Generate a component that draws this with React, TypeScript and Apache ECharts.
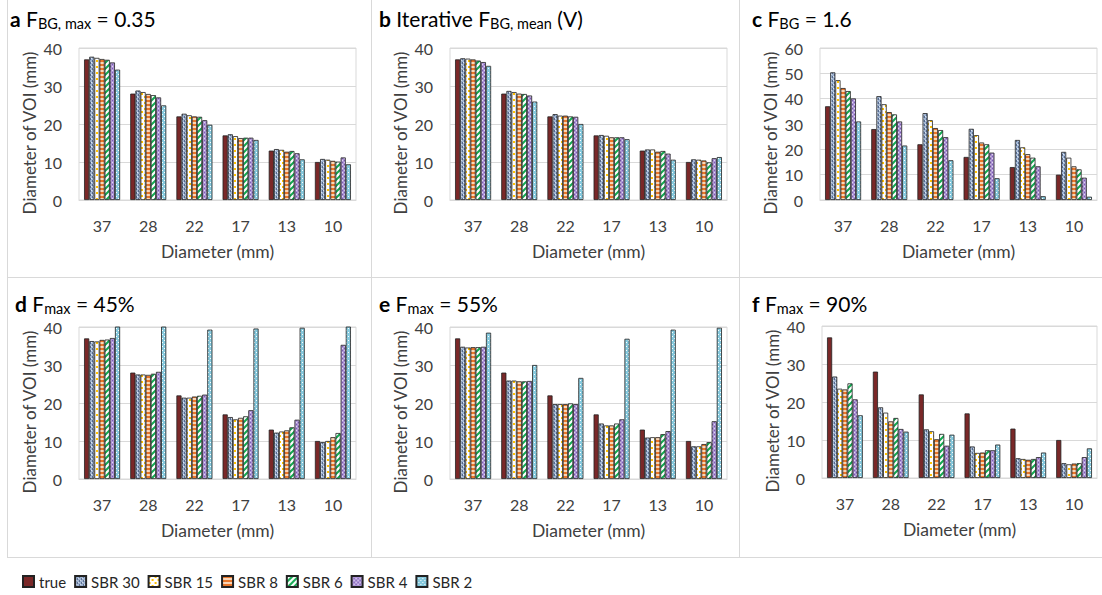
import React, { useEffect, useRef } from 'react';
import * as echarts from 'echarts';

const FONT = 'Lato';

const categories = ['37', '28', '22', '17', '13', '10'];
const seriesNames = ['true', 'SBR 30', 'SBR 15', 'SBR 8', 'SBR 6', 'SBR 4', 'SBR 2'];
const trueDiameters = [37, 28, 22, 17, 13, 10];

// rows: SBR 30, SBR 15, SBR 8, SBR 6, SBR 4, SBR 2 ; columns follow categories
const panelA = [
  [37.7, 28.8, 22.7, 17.3, 13.4, 10.8],
  [37.4, 28.4, 22.3, 16.8, 13.2, 10.6],
  [37.1, 27.9, 22.0, 16.3, 12.7, 10.3],
  [36.9, 27.6, 21.9, 16.4, 12.9, 10.1],
  [36.2, 27.0, 21.0, 16.4, 12.3, 11.2],
  [34.3, 24.9, 19.8, 15.8, 10.7, 9.4],
];
const panelB = [
  [37.3, 28.7, 22.6, 17.1, 13.3, 10.7],
  [37.2, 28.4, 22.2, 16.9, 13.3, 10.6],
  [37.0, 28.0, 22.2, 16.5, 12.7, 10.4],
  [36.7, 27.9, 22.0, 16.5, 12.9, 9.9],
  [36.3, 27.5, 21.9, 16.5, 12.2, 11.0],
  [35.3, 25.9, 20.0, 16.0, 10.6, 11.3],
];
const panelC = [
  [50.4, 41.0, 34.3, 28.1, 23.7, 19.0],
  [47.3, 37.8, 31.5, 25.6, 20.8, 16.7],
  [44.2, 34.7, 28.4, 22.7, 18.1, 13.3],
  [43.0, 33.8, 27.6, 22.0, 16.7, 12.1],
  [40.1, 31.0, 24.8, 18.7, 13.3, 8.8],
  [31.0, 21.5, 15.7, 8.6, 1.5, 1.3],
];
const panelD = [
  [36.3, 27.5, 21.4, 16.3, 12.2, 9.7],
  [36.2, 27.5, 21.4, 15.7, 12.5, 10.0],
  [36.6, 27.4, 21.7, 16.1, 12.8, 11.0],
  [36.7, 27.7, 21.9, 16.5, 13.6, 12.1],
  [37.1, 28.2, 22.2, 18.1, 15.6, 35.3],
  [45.0, 44.0, 39.3, 39.6, 39.8, 40.2],
];
const panelE = [
  [34.8, 25.9, 19.7, 14.6, 10.9, 8.6],
  [34.6, 25.9, 19.7, 14.1, 11.0, 8.6],
  [34.7, 25.7, 19.7, 14.1, 11.0, 9.2],
  [34.7, 25.7, 19.9, 14.6, 11.8, 9.7],
  [34.8, 25.8, 19.7, 15.7, 12.6, 15.2],
  [38.5, 30.0, 26.6, 36.9, 39.3, 39.8],
];
const panelF = [
  [26.7, 18.6, 12.8, 8.3, 5.2, 3.9],
  [23.5, 17.2, 12.3, 6.6, 5.0, 3.6],
  [23.3, 14.9, 10.2, 6.7, 4.8, 3.8],
  [24.9, 15.8, 11.6, 7.3, 5.0, 3.9],
  [20.7, 12.9, 8.5, 7.3, 5.5, 5.5],
  [16.5, 12.2, 11.4, 8.8, 6.7, 7.8],
];

const panelData = [panelA, panelB, panelC, panelD, panelE, panelF];
const panelMax = [40, 40, 60, 40, 40, 40];
const panelTitles = [
  '{b|a}{n| F}{s|BG, max}{n| = 0.35}',
  '{b|b}{n| Iterative F}{s|BG, mean}{n| (V)}',
  '{b|c}{n| F}{s|BG}{n| = 1.6}',
  '{b|d}{n| F}{s|max}{n| = 45%}',
  '{b|e}{n| F}{s|max}{n| = 55%}',
  '{b|f}{n| F}{s|max}{n| = 90%}',
];
const yAxisTitle = 'Diameter of VOI (mm)';
const xAxisTitle = 'Diameter (mm)';

// layout
const grids = [
  { left: 79, top: 48, width: 277, height: 152 },
  { left: 450, top: 48, width: 277, height: 152 },
  { left: 820, top: 48, width: 277, height: 152 },
  { left: 79, top: 327, width: 277, height: 152 },
  { left: 450, top: 327, width: 277, height: 152 },
  { left: 822, top: 326, width: 275, height: 152 },
];
const titlePos = [
  { left: 10, top: 5 },
  { left: 379, top: 5 },
  { left: 752, top: 5 },
  { left: 15, top: 290 },
  { left: 379, top: 290 },
  { left: 752, top: 290 },
];

function makeTile(w: number, h: number, draw: (ctx: CanvasRenderingContext2D) => void) {
  const c = document.createElement('canvas');
  c.width = w;
  c.height = h;
  const ctx = c.getContext('2d') as CanvasRenderingContext2D;
  draw(ctx);
  return { image: c.toDataURL(), repeat: 'repeat', imageWidth: w, imageHeight: h };
}

function buildFills(): any[] {
  const solid = '#7a2828';
  const sbr30 = makeTile(4, 4, (ctx) => {
    ctx.fillStyle = '#9fb4d2';
    ctx.fillRect(0, 0, 4, 4);
    ctx.fillStyle = '#56698c';
    ctx.fillRect(0, 0, 1, 2);
    ctx.fillRect(2, 2, 1, 2);
    ctx.fillStyle = '#dfe7f2';
    ctx.fillRect(1, 0, 1, 1);
    ctx.fillRect(3, 2, 1, 1);
  });
  const sbr15 = makeTile(6, 6, (ctx) => {
    ctx.fillStyle = '#ffffff';
    ctx.fillRect(0, 0, 6, 6);
    ctx.fillStyle = '#ffc000';
    ctx.fillRect(0, 0, 2, 2);
    ctx.fillRect(3, 3, 2, 2);
  });
  const sbr8 = makeTile(4, 4, (ctx) => {
    ctx.fillStyle = '#fbd5b5';
    ctx.fillRect(0, 0, 4, 4);
    ctx.fillStyle = '#e9772b';
    ctx.fillRect(0, 0, 4, 2);
  });
  const sbr6 = makeTile(6, 6, (ctx) => {
    ctx.fillStyle = '#ffffff';
    ctx.fillRect(0, 0, 6, 6);
    ctx.strokeStyle = '#12a950';
    ctx.lineWidth = 2;
    ctx.beginPath();
    ctx.moveTo(-1, 7);
    ctx.lineTo(7, -1);
    ctx.moveTo(-4, 4);
    ctx.lineTo(4, -4);
    ctx.moveTo(2, 10);
    ctx.lineTo(10, 2);
    ctx.stroke();
  });
  const sbr4 = makeTile(4, 4, (ctx) => {
    ctx.fillStyle = '#ae95d6';
    ctx.fillRect(0, 0, 4, 4);
    ctx.fillStyle = '#7c5cb3';
    ctx.fillRect(0, 0, 1, 1);
    ctx.fillRect(2, 2, 1, 1);
    ctx.fillStyle = '#e2d7f2';
    ctx.fillRect(2, 0, 1, 1);
    ctx.fillRect(0, 2, 1, 1);
  });
  const sbr2 = makeTile(4, 4, (ctx) => {
    ctx.fillStyle = '#86c9dd';
    ctx.fillRect(0, 0, 4, 4);
    ctx.fillStyle = '#ffffff';
    ctx.fillRect(0, 0, 1, 1);
    ctx.fillRect(2, 2, 1, 1);
  });
  return [solid, sbr30, sbr15, sbr8, sbr6, sbr4, sbr2];
}

const titleRich = {
  b: { fontFamily: FONT, fontSize: 21, fontWeight: 'bold', color: '#000', lineHeight: 26 },
  n: { fontFamily: FONT, fontSize: 21, fontWeight: 'normal', color: '#000', lineHeight: 26 },
  s: { fontFamily: FONT, fontSize: 14.5, fontWeight: 'normal', color: '#000', lineHeight: 12, verticalAlign: 'bottom' },
};

export default function App() {
  const ref = useRef<HTMLDivElement>(null);

  useEffect(() => {
    if (!ref.current) return;
    const chart = echarts.init(ref.current, null, { renderer: 'svg' });
    const fills = buildFills();

    const gridOpts = grids.map((g) => ({
      ...g,
      show: true,
      borderColor: '#d9d9d9',
      borderWidth: 1,
      backgroundColor: 'transparent',
      containLabel: false,
    }));

    const xAxes = grids.map((_, i) => ({
      type: 'category',
      gridIndex: i,
      data: categories,
      axisTick: { show: false },
      axisLine: { show: true, lineStyle: { color: '#d9d9d9', width: 1 } },
      axisLabel: { margin: 17, fontSize: 16, fontFamily: FONT, color: '#404040' },
      name: xAxisTitle,
      nameLocation: 'middle',
      nameGap: 42,
      nameTextStyle: { fontSize: 17.5, fontFamily: FONT, color: '#404040' },
    }));

    const yAxes = grids.map((_, i) => ({
      type: 'value',
      gridIndex: i,
      min: 0,
      max: panelMax[i],
      interval: 10,
      axisLine: { show: false },
      axisTick: { show: false },
      splitLine: { show: true, lineStyle: { color: '#d9d9d9', width: 1 } },
      axisLabel: { margin: 17, fontSize: 16, fontFamily: FONT, color: '#404040' },
    }));

    const series: any[] = [];
    panelData.forEach((rows, p) => {
      const allRows = [trueDiameters, ...rows];
      allRows.forEach((vals, s) => {
        series.push({
          type: 'bar',
          name: seriesNames[s],
          xAxisIndex: p,
          yAxisIndex: p,
          data: vals,
          barGap: '0%',
          barCategoryGap: '22%',
          clip: true,
          itemStyle: {
            color: fills[s],
            borderColor: '#222222',
            borderWidth: 0.8,
          },
          emphasis: { disabled: true },
        });
      });
    });

    const titles = panelTitles.map((t, i) => ({
      text: t,
      left: titlePos[i].left,
      top: titlePos[i].top,
      padding: 0,
      textStyle: { rich: titleRich, fontFamily: FONT, fontSize: 21, fontWeight: 'normal' },
    }));

    const lineStyle = { stroke: '#d9d9d9', lineWidth: 1 };
    const graphics: any[] = [
      { type: 'line', shape: { x1: 7.5, y1: 0, x2: 7.5, y2: 557 }, style: lineStyle, silent: true },
      { type: 'line', shape: { x1: 371.5, y1: 0, x2: 371.5, y2: 557 }, style: lineStyle, silent: true },
      { type: 'line', shape: { x1: 739.5, y1: 0, x2: 739.5, y2: 557 }, style: lineStyle, silent: true },
      { type: 'line', shape: { x1: 7, y1: 277.5, x2: 1102, y2: 277.5 }, style: lineStyle, silent: true },
      { type: 'line', shape: { x1: 7, y1: 557.5, x2: 1102, y2: 557.5 }, style: lineStyle, silent: true },
    ];
    grids.forEach((g) => {
      graphics.push({
        type: 'text',
        x: g.left - 50,
        y: g.top + g.height / 2 + 9,
        rotation: Math.PI / 2,
        silent: true,
        style: {
          text: yAxisTitle,
          fontSize: 17,
          fontFamily: FONT,
          fill: '#404040',
          align: 'center',
          verticalAlign: 'middle',
        },
      });
    });

    chart.setOption({
      animation: false,
      backgroundColor: '#ffffff',
      textStyle: { fontFamily: FONT },
      title: titles,
      legend: {
        data: seriesNames,
        left: 17,
        top: 569,
        icon: 'rect',
        itemWidth: 11,
        itemHeight: 11,
        itemGap: 8,
        selectedMode: false,
        textStyle: { fontSize: 15, fontFamily: FONT, color: '#262626' },
      },
      grid: gridOpts,
      xAxis: xAxes,
      yAxis: yAxes,
      series,
      graphic: graphics,
    });

    return () => {
      chart.dispose();
    };
  }, []);

  return (
    <div
      ref={ref}
      style={{ position: 'absolute', left: 0, top: 0, width: 1102, height: 595 }}
    />
  );
}
